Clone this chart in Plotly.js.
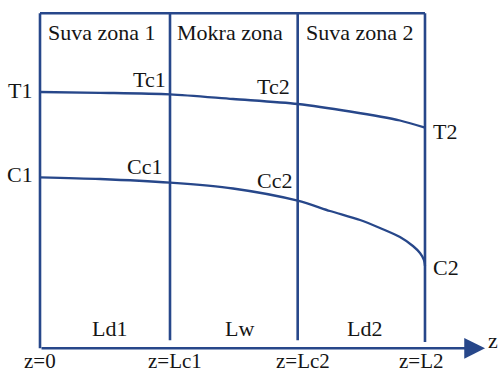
<!DOCTYPE html>
<html>
<head>
<meta charset="utf-8">
<script src="https://cdn.plot.ly/plotly-3.0.1.min.js"></script>
<style>html,body{margin:0;padding:0;background:#fff}</style>
</head>
<body>
<div id="chart" style="width:499px;height:373px"></div>
<script>
// Positions along the dryer: z = 0, Lc1, Lc2, L2
const zoneEdges = [0, 1.013, 2.008, 3.0];
const edgeLabels = ['z=0', 'z=Lc1', 'z=Lc2', 'z=L2'];
const zoneNames = ['Suva zona 1', 'Mokra zona', 'Suva zona 2'];
const zoneLengths = ['Ld1', 'Lw', 'Ld2'];

// Temperature profile T(z)
const zT = [0, 0.468, 1.013, 1.504, 2.008, 2.416, 2.805, 3.0];
const T  = [2.563, 2.555, 2.540, 2.493, 2.443, 2.368, 2.278, 2.206];
const tLabels = ['T1', 'Tc1', 'Tc2', 'T2'];

// Concentration profile C(z)
const zC = [0, 0.468, 1.013, 1.504, 2.008, 2.260, 2.494, 2.649, 2.805, 2.906, 2.961, 2.992, 3.0];
const C  = [1.710, 1.693, 1.656, 1.598, 1.476, 1.373, 1.283, 1.203, 1.113, 1.023, 0.953, 0.883, 0.823];
const cLabels = ['C1', 'Cc1', 'Cc2', 'C2'];

const boxTop = 3.35;
const lineBottoms = [0, 0.08, 0.08, 0.063];
const axisEnd = 3.468;

const ink = '#27478a';
const textColor = '#151515';
const serif = '"Liberation Serif", "Times New Roman", serif';

// zone boundary lines
const vx = [], vy = [];
zoneEdges.forEach((e, i) => { vx.push(e, e, null); vy.push(lineBottoms[i], boxTop, null); });

const traces = [
  {x: vx, y: vy, mode: 'lines', line: {color: ink, width: 2.6}, hoverinfo: 'skip'},
  {x: [zoneEdges[0], zoneEdges[3]], y: [boxTop, boxTop], mode: 'lines', line: {color: ink, width: 2.6}, hoverinfo: 'skip'},
  {x: zT, y: T, mode: 'lines', line: {color: ink, width: 2.3, shape: 'spline', smoothing: 0.8}},
  {x: zC, y: C, mode: 'lines', line: {color: ink, width: 2.3, shape: 'spline', smoothing: 0.8}}
];

const ann = [];
const txt = (o, size) => Object.assign({showarrow: false, font: {family: serif, size: size || 22, color: textColor}}, o);

// zone names along the top
const topShift = [-3, -4, -1];
zoneNames.forEach((n, i) => {
  ann.push(txt({x: (zoneEdges[i] + zoneEdges[i + 1]) / 2, y: boxTop, text: n,
    xanchor: 'center', yanchor: 'middle', xshift: topShift[i], yshift: -19}));
});
// zone lengths along the bottom
const botShift = [4, 6, 3];
zoneLengths.forEach((n, i) => {
  ann.push(txt({x: (zoneEdges[i] + zoneEdges[i + 1]) / 2, y: 0, text: n,
    xanchor: 'center', yanchor: 'middle', xshift: botShift[i], yshift: 20}));
});
// z positions under the axis
const edgeShift = [0, 4.5, 5, -3.5];
edgeLabels.forEach((n, i) => {
  ann.push(txt({x: zoneEdges[i], y: 0, text: n, xanchor: 'center', yanchor: 'middle',
    xshift: edgeShift[i], yshift: -13, borderpad: 0}, 21));
});

// point labels on the profiles
const tOff = [[-6, 1.2], [-2, 14.5], [-5.5, 17.5], [6, -3.8]];
const cOff = [[-5, 3], [-6, 16], [-3.5, 20], [6, -1.5]];
zoneEdges.forEach((e, i) => {
  const right = i < 3;
  ann.push(txt({x: e, y: T[zT.indexOf(e)], text: tLabels[i], xanchor: right ? 'right' : 'left',
    yanchor: 'middle', xshift: tOff[i][0], yshift: tOff[i][1]}));
  ann.push(txt({x: e, y: C[zC.indexOf(e)], text: cLabels[i], xanchor: right ? 'right' : 'left',
    yanchor: 'middle', xshift: cOff[i][0], yshift: cOff[i][1]}));
});

// z axis with arrow
ann.push({x: axisEnd, y: 0, ax: zoneEdges[0], ay: 0, axref: 'x', ayref: 'y', xref: 'x', yref: 'y',
  showarrow: true, arrowhead: 2, arrowsize: 1.6, arrowwidth: 2.6, arrowcolor: ink, standoff: 0, text: ''});
ann.push(txt({x: axisEnd, y: 0, text: 'z', xanchor: 'left', yanchor: 'middle', xshift: 1, yshift: 8}));

const layout = {
  width: 499, height: 373,
  margin: {l: 0, r: 0, t: 0, b: 0},
  paper_bgcolor: '#fff', plot_bgcolor: '#fff',
  showlegend: false,
  xaxis: {range: [-0.3117, 3.5767], visible: false, fixedrange: true},
  yaxis: {range: [-0.247, 3.483], visible: false, fixedrange: true},
  annotations: ann
};

Plotly.newPlot('chart', traces, layout, {staticPlot: true, displayModeBar: false});
</script>
</body>
</html>
